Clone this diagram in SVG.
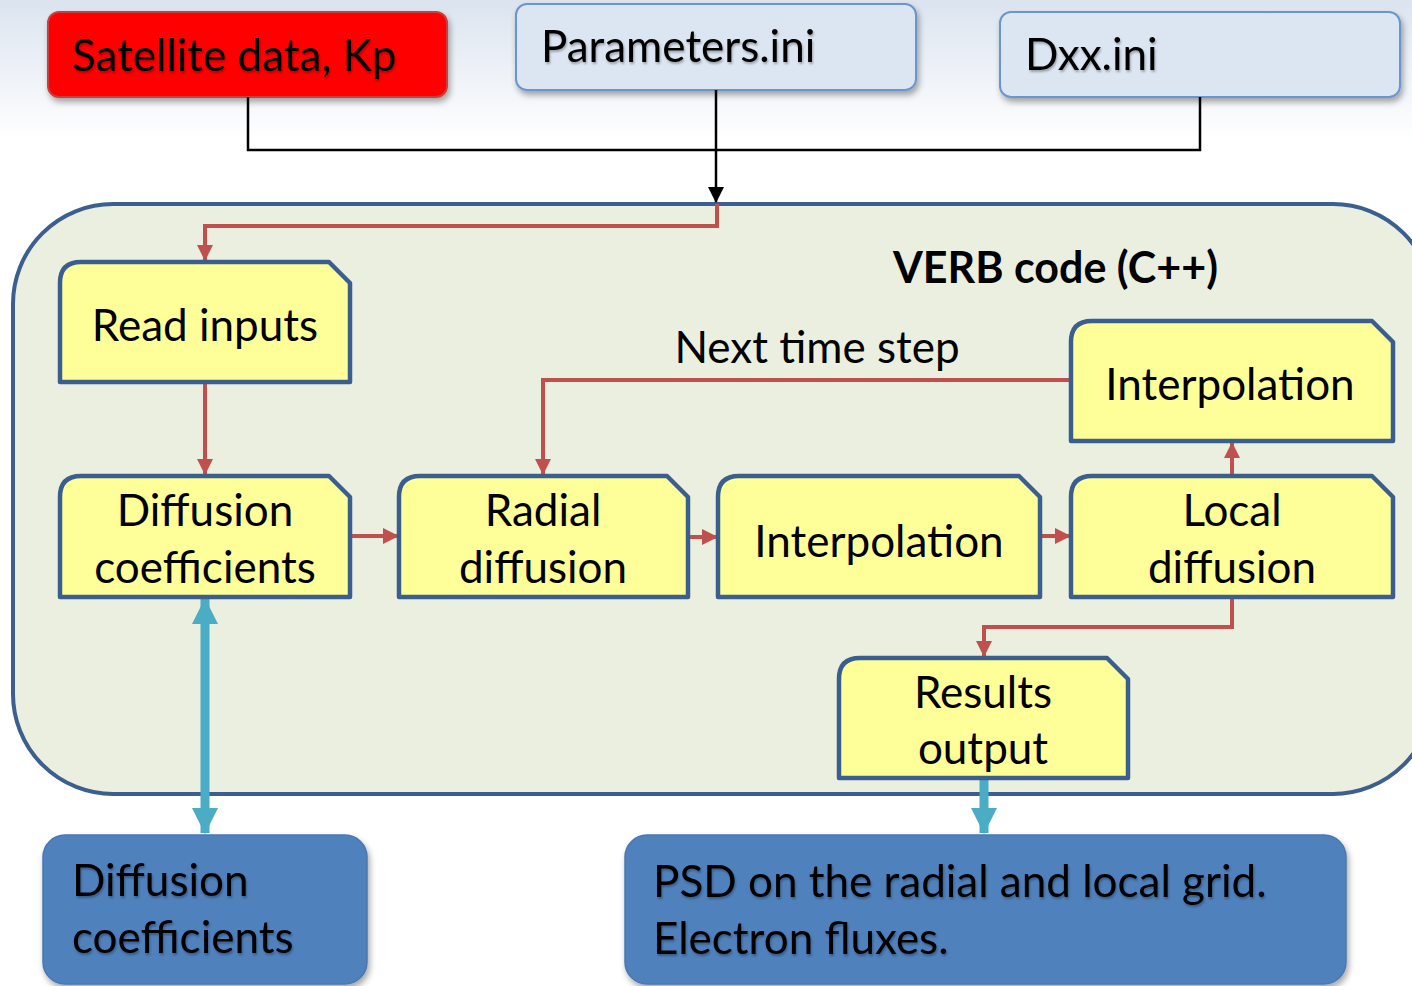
<svg xmlns="http://www.w3.org/2000/svg" width="1412" height="986" viewBox="0 0 1412 986">
<defs>
<linearGradient id="bg" x1="0" y1="0" x2="0" y2="1">
<stop offset="0" stop-color="#dbe4ef"/>
<stop offset="1" stop-color="#ffffff"/>
</linearGradient>
<filter id="sh" x="-10%" y="-10%" width="130%" height="140%">
<feDropShadow dx="2" dy="4" stdDeviation="3" flood-color="#000" flood-opacity="0.35"/>
</filter>
<filter id="tsh" x="-5%" y="-5%" width="110%" height="120%">
<feDropShadow dx="1" dy="2" stdDeviation="1" flood-color="#000" flood-opacity="0.3"/>
</filter>
<marker id="ar" markerUnits="userSpaceOnUse" markerWidth="16" markerHeight="16" viewBox="0 0 16 16" refX="15" refY="8" orient="auto">
<path d="M0,0 L16,8 L0,16 Z" fill="#c0504d"/>
</marker>
<marker id="ab" markerUnits="userSpaceOnUse" markerWidth="18" markerHeight="16" viewBox="0 0 16 16" refX="15" refY="8" orient="auto">
<path d="M0,0 L16,8 L0,16 Z" fill="#000"/>
</marker>
<marker id="ac" markerUnits="userSpaceOnUse" markerWidth="26" markerHeight="26" viewBox="0 0 26 26" refX="25" refY="13" orient="auto-start-reverse">
<path d="M0,0 L26,13 L0,26 Z" fill="#4bacc6"/>
</marker>
</defs>
<style>
text{font-family:Lato,"Liberation Sans",sans-serif;font-size:44px;fill:#000}
.c{text-anchor:middle}
.b{font-weight:bold;font-size:43px}
.y{fill:#ffff99;stroke:#3a5f8f;stroke-width:4.5;stroke-linejoin:round}
.red{fill:none;stroke:#c0504d;stroke-width:4}
.blk{fill:none;stroke:#000;stroke-width:2.5}
.cy{fill:none;stroke:#4bacc6;stroke-width:9}
.top{fill:#dce6f2;stroke:#6a95cf;stroke-width:2}
.blue{fill:#4f81bd;stroke:#4a78b0;stroke-width:1.5}
</style>
<rect x="0" y="0" width="1412" height="140" fill="url(#bg)"/>
<rect x="0" y="140" width="1412" height="846" fill="#fff"/>

<g id="container">
<rect x="13" y="204" width="1420" height="590" rx="100" ry="100" fill="#ebefdf" stroke="#3b5f8e" stroke-width="4"/>
<text x="893" y="283" class="b">VERB code (C++)</text>
</g>

<g id="satellite">
<rect x="48" y="12" width="399" height="85" rx="11" fill="#ff0000" stroke="#c8403c" stroke-width="2" filter="url(#sh)"/>
<text x="72" y="71" filter="url(#tsh)">Satellite data, Kp</text>
</g>
<g id="parameters">
<rect x="516" y="4" width="400" height="86" rx="11" class="top" filter="url(#sh)"/>
<text x="541" y="62" filter="url(#tsh)">Parameters.ini</text>
</g>
<g id="dxx">
<rect x="1000" y="12" width="400" height="85" rx="11" class="top" filter="url(#sh)"/>
<text x="1025" y="70" filter="url(#tsh)">Dxx.ini</text>
</g>

<g id="connectors">
<path class="blk" d="M248,97 V150 H1200 V97"/>
<path class="blk" d="M716,90 V202" marker-end="url(#ab)"/>
<path class="red" d="M717,204 V226 H205 V260" marker-end="url(#ar)"/>
<path class="red" d="M205,384 V474" marker-end="url(#ar)"/>
<path class="red" d="M352,536 H398" marker-end="url(#ar)"/>
<path class="red" d="M690,537 H717" marker-end="url(#ar)"/>
<path class="red" d="M1042,536 H1070" marker-end="url(#ar)"/>
<path class="red" d="M1232,474 V443" marker-end="url(#ar)"/>
<path class="red" d="M1069,380 H543 V474" marker-end="url(#ar)"/>
<path class="red" d="M1232,599 V627 H984 V656" marker-end="url(#ar)"/>
<path class="cy" d="M205,599 V833" marker-start="url(#ac)" marker-end="url(#ac)"/>
<path class="cy" d="M984,780 V833" marker-end="url(#ac)"/>
<text x="817" y="363" class="c">Next time step</text>
</g>

<g id="read-inputs">
<path class="y" d="M60,382 V283 Q60,262 81,262 H329 L350,283 V382 Z"/>
<text x="205" y="341" class="c">Read inputs</text>
</g>
<g id="diffusion-coefficients">
<path class="y" d="M60,597 V497 Q60,476 81,476 H329 L350,497 V597 Z"/>
<text x="205" y="526" class="c">Diffusion</text>
<text x="205" y="583" class="c">coefficients</text>
</g>
<g id="radial-diffusion">
<path class="y" d="M399,597 V497 Q399,476 420,476 H667 L688,497 V597 Z"/>
<text x="543" y="526" class="c">Radial</text>
<text x="543" y="583" class="c">diffusion</text>
</g>
<g id="interpolation-mid">
<path class="y" d="M718,597 V497 Q718,476 739,476 H1019 L1040,497 V597 Z"/>
<text x="879" y="557" class="c">Interpolation</text>
</g>
<g id="local-diffusion">
<path class="y" d="M1071,597 V497 Q1071,476 1092,476 H1372 L1393,497 V597 Z"/>
<text x="1232" y="526" class="c">Local</text>
<text x="1232" y="583" class="c">diffusion</text>
</g>
<g id="interpolation-top">
<path class="y" d="M1071,441 V342 Q1071,321 1092,321 H1372 L1393,342 V441 Z"/>
<text x="1230" y="400" class="c">Interpolation</text>
</g>
<g id="results-output">
<path class="y" d="M839,778 V679 Q839,658 860,658 H1107 L1128,679 V778 Z"/>
<text x="983" y="708" class="c">Results</text>
<text x="983" y="764" class="c">output</text>
</g>

<g id="diffusion-coefficients-file">
<rect x="43" y="835" width="324" height="149" rx="22" class="blue" filter="url(#sh)"/>
<text x="72" y="896" filter="url(#tsh)">Diffusion</text>
<text x="72" y="953" filter="url(#tsh)">coefficients</text>
</g>
<g id="psd-output">
<rect x="625" y="835" width="721" height="149" rx="22" class="blue" filter="url(#sh)"/>
<text x="653" y="897" filter="url(#tsh)">PSD on the radial and local grid.</text>
<text x="653" y="954" filter="url(#tsh)">Electron fluxes.</text>
</g>
</svg>
